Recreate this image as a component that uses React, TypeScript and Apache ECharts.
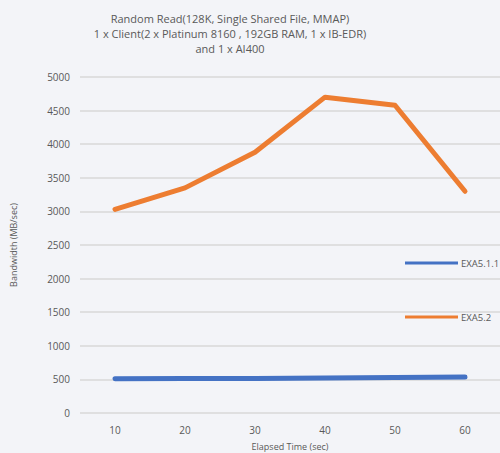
import React, { useEffect, useRef } from "react";
import * as echarts from "echarts";

const categories = ["10", "20", "30", "40", "50", "60"];
const exa511 = [510, 515, 515, 520, 530, 535];
const exa52 = [3030, 3350, 3880, 4700, 4580, 3300];
const titleLines = [
  "Random Read(128K, Single Shared File, MMAP)",
  "1 x Client(2 x Platinum 8160 , 192GB RAM, 1 x IB-EDR)",
  "and 1 x AI400",
];

export default function App() {
  const ref = useRef<HTMLDivElement>(null);
  useEffect(() => {
    if (!ref.current) return;
    const chart = echarts.init(ref.current, null, { renderer: "svg" });
    const font = "Open Sans, Noto Sans, sans-serif";
    chart.setOption({
      animation: false,
      backgroundColor: "#f3f4f8",
      textStyle: { fontFamily: font },
      title: {
        text: titleLines.join("\n"),
        left: 225,
        top: 6,
        textAlign: "center",
        textStyle: {
          fontSize: 11,
          fontWeight: "normal",
          color: "#595959",
          lineHeight: 15,
          fontFamily: font,
        },
      },
      legend: {
        orient: "vertical",
        left: 400,
        top: 253,
        itemWidth: 53,
        itemHeight: 3,
        itemGap: 44,
        icon: "rect",
        textStyle: { fontSize: 9.5, color: "#595959", fontFamily: font, padding: [0, 0, 0, -2] },
        data: ["EXA5.1.1", "EXA5.2"],
      },
      grid: { left: 80, right: 0, top: 77, bottom: 40, outerBoundsMode: "none", containLabel: false },
      xAxis: {
        type: "category",
        data: categories,
        boundaryGap: true,
        name: "Elapsed Time (sec)",
        nameLocation: "middle",
        nameGap: 29,
        nameTextStyle: { fontSize: 9, color: "#595959" },
        axisLine: { show: false },
        axisTick: { show: false },
        axisLabel: { fontSize: 10, color: "#595959", margin: 12 },
      },
      yAxis: {
        type: "value",
        min: 0,
        max: 5000,
        interval: 500,
        name: "Bandwidth (MB/sec)",
        nameLocation: "middle",
        nameGap: 62,
        nameTextStyle: { fontSize: 9, color: "#595959" },
        axisLine: { show: false },
        axisTick: { show: false },
        axisLabel: { fontSize: 10, color: "#595959", margin: 10, formatter: (v: number) => String(v) },
        splitLine: { lineStyle: { color: "#d9d9d9", width: 1.5 } },
      },
      series: [
        {
          name: "EXA5.1.1",
          type: "line",
          data: exa511,
          symbol: "none",
          color: "#4472C4",
          lineStyle: { width: 5, color: "#4472C4", cap: "round", join: "round" },
        },
        {
          name: "EXA5.2",
          type: "line",
          data: exa52,
          symbol: "none",
          color: "#ED7D31",
          lineStyle: { width: 5, color: "#ED7D31", cap: "round", join: "round" },
        },
      ],
    });
    return () => chart.dispose();
  }, []);
  return (
    <div
      ref={ref}
      style={{ position: "fixed", left: 0, top: 0, width: 500, height: 453 }}
    />
  );
}
